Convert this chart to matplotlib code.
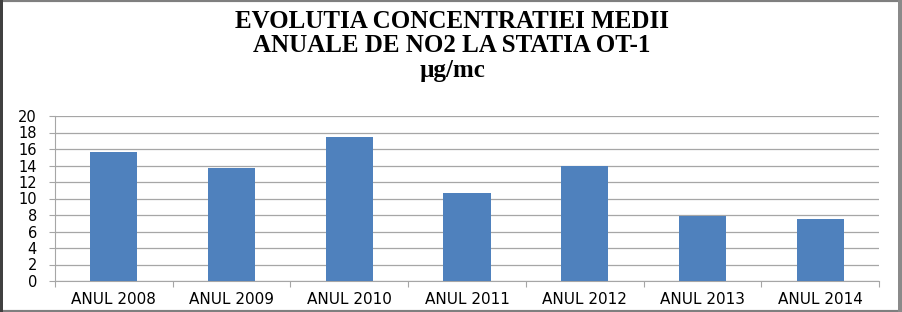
import numpy as np
import matplotlib.pyplot as plt
from matplotlib.patches import Rectangle

# data
years = ['ANUL 2008', 'ANUL 2009', 'ANUL 2010', 'ANUL 2011',
         'ANUL 2012', 'ANUL 2013', 'ANUL 2014']
no2 = [15.6, 13.65, 17.4, 10.7, 14.0, 7.85, 7.5]
y_ticks = list(range(0, 21, 2))

W, H = 903, 312
fig = plt.figure(figsize=(W/100, H/100), dpi=100)

# outer frame
fig.patches.append(Rectangle((0, 0), 1, 1, transform=fig.transFigure,
                             fill=False, edgecolor='#7f7f7f', lw=3))
fig.patches.append(Rectangle((0, 0), 3/W, 1, transform=fig.transFigure,
                             color='#404040', lw=0))
fig.patches.append(Rectangle((1 - 5/W, 0), 5/W, 1, transform=fig.transFigure,
                             color='#8a8a8a', lw=0))

# title, three lines
tfont = dict(family='Liberation Serif', weight='bold', ha='center', va='center')
fig.text(452/W, 1 - 22/H, 'EVOLUTIA CONCENTRATIEI MEDII', fontsize=18, **tfont)
fig.text(452/W, 1 - 46/H, 'ANUALE DE NO2 LA STATIA OT-1', fontsize=18, **tfont)
fig.text(452/W, 1 - 70/H, 'µg/mc', fontsize=18, **tfont)

ax = fig.add_axes([55/W, 1 - 281/H, (879 - 55)/W, (281 - 116)/H])
x = np.arange(len(years))
ax.bar(x, no2, width=0.4, color='#4F81BD', zorder=3)

ax.set_xlim(-0.5, len(years) - 0.5)
ax.set_ylim(0, 20)
ax.set_yticks(y_ticks)
ax.set_yticklabels([str(v) for v in y_ticks], fontsize=10.5, family='DejaVu Sans')
ax.grid(axis='y', color='#a6a6a6', lw=0.9, zorder=0)

ax.set_xticks(np.arange(-0.5, len(years)), minor=False)
ax.set_xticklabels([])
ax.set_xticks(x, minor=True)
ax.set_xticklabels(years, minor=True, fontsize=11, family='DejaVu Sans')
ax.tick_params(axis='x', which='major', length=4, color='#a6a6a6')
ax.tick_params(axis='x', which='minor', length=0, pad=8)
ax.tick_params(axis='y', length=4, color='#a6a6a6', pad=9)

for s in ['top', 'right']:
    ax.spines[s].set_visible(False)
for s in ['left', 'bottom']:
    ax.spines[s].set_color('#a6a6a6')

fig.savefig('out.png', dpi=100)
